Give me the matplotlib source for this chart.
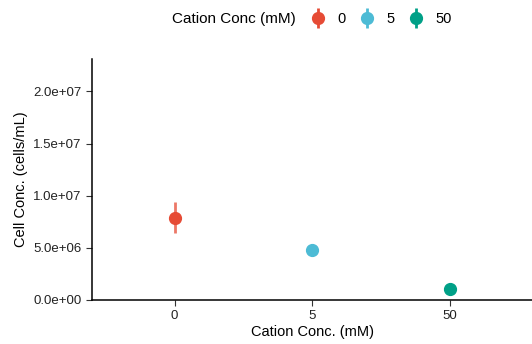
import numpy as np
import matplotlib.pyplot as plt
from matplotlib.lines import Line2D

plt.rcParams['font.family'] = ['Liberation Sans', 'DejaVu Sans']

# data
groups = ['0', '5', '50']
cell_conc = [7.9e6, 4.75e6, 1.1e6]
err_low = [6.4e6, 4.65e6, 1.0e6]
err_high = [9.4e6, 4.85e6, 1.2e6]
colors = ['#E64B35', '#4DBBD5', '#00A087']

fig = plt.figure(figsize=(5.32, 3.44), dpi=100)
ax = fig.add_axes([0.173, 0.128, 0.827, 0.7])

x = np.arange(len(groups))
handles = []
for i in range(len(groups)):
    yerr = [[cell_conc[i] - err_low[i]], [err_high[i] - cell_conc[i]]]
    h = ax.errorbar(x[i], cell_conc[i], yerr=yerr, fmt='o', color=colors[i],
                    ms=8.5, elinewidth=2, ecolor=colors[i], capsize=0)
    h[2][0].set_alpha(0.75)
    bar = Line2D([], [], marker='|', ls='none', color=colors[i], ms=14, mew=2)
    dot = Line2D([], [], marker='o', ls='none', color=colors[i], ms=8.5)
    handles.append((bar, dot))

ax.set_xlim(-0.6, 2.6)
ax.set_ylim(0, 2.31e7)
ax.set_xticks(x)
ax.set_xticklabels(groups)
ax.set_yticks(np.arange(0, 2.01e7, 5e6))
ax.set_yticklabels(['%.1e' % v for v in np.arange(0, 2.01e7, 5e6)])
ax.tick_params(labelsize=9.5, colors='#333333', length=4)
ax.tick_params(labelcolor='#222222')
for s in ['top', 'right']:
    ax.spines[s].set_visible(False)
for s in ['left', 'bottom']:
    ax.spines[s].set_linewidth(1.1)
ax.set_xlabel('Cation Conc. (mM)', fontsize=10.5, labelpad=2)
ax.set_ylabel('Cell Conc. (cells/mL)', fontsize=10.5, labelpad=4)

fig.text(0.323, 0.945, 'Cation Conc (mM)', fontsize=11, va='center', ha='left')
fig.legend(handles=handles, labels=groups, loc='center left', bbox_to_anchor=(0.574, 0.945),
           ncol=3, frameon=False, fontsize=10.5, handlelength=0.9,
           handletextpad=0.9, columnspacing=1.0, borderaxespad=0)

fig.savefig('out.png', dpi=100)
